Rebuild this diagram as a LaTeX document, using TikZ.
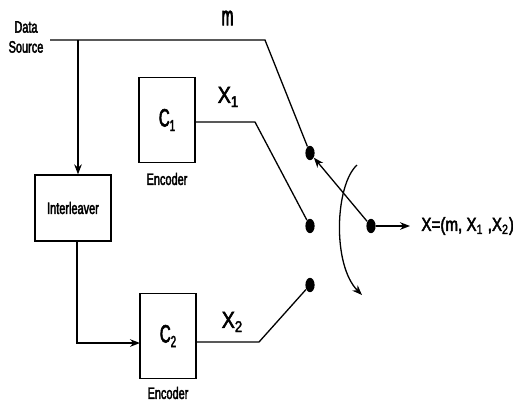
\documentclass[tikz,border=0pt]{standalone}
\usepackage{fontspec}
\setmainfont{Liberation Sans}[FakeStretch=0.66,FakeBold=2.5]
\newfontfamily\cfont{Liberation Sans}[FakeStretch=0.6,FakeBold=2.5]
\newfontfamily\mfont{Liberation Sans}[FakeStretch=0.52,FakeBold=2.5]
\newfontfamily\xfont{Liberation Sans}[FakeStretch=0.85,FakeBold=2.5]
\newfontfamily\ofont{Liberation Sans}[FakeStretch=0.79,FakeBold=2.5]
\usetikzlibrary{arrows.meta,shapes.geometric}
\newcommand{\lsub}[2][7.4]{\raisebox{-0.35ex}{\fontsize{#1}{8}\selectfont #2}}
\begin{document}
\begin{tikzpicture}[x=0.5pt,y=-0.5pt,
  wire/.style={line width=0.65pt},
  arr/.style={wire,-{Stealth[length=5pt,width=3.8pt]}},
  box/.style={draw,line width=0.65pt,minimum width=28pt,minimum height=42.5pt,inner sep=0pt},
  dotnode/.style={ellipse,fill,minimum width=4.6pt,minimum height=7.2pt,inner sep=0pt},
  small/.style={font=\fontsize{8.3}{10}\selectfont,inner sep=0pt},
  lab/.style={font=\xfont\fontsize{11.5}{12}\selectfont,inner sep=0pt}]
\useasboundingbox (0,0) rectangle (513,403);
% text nodes
\node[small,align=center] (ds) at (26,37) {Data\\Source};
\node[font=\mfont\fontsize{13.5}{15}\selectfont,inner sep=0pt] (m) at (227.5,18) {m};
\node[lab] (x1) at (228,97) {X\lsub[7.8]{1}};
\node[lab] (x2) at (232,322) {X\lsub[7.8]{2}};
% boxes
\node[box,minimum width=38pt,minimum height=33pt] (il) at (73,208) {\fontsize{8.3}{10}\selectfont Interleaver};
\node[box] (c1) at (167,120) {\cfont\fontsize{12.5}{14}\selectfont C\lsub[8]{1}};
\node[box] (c2) at (168,336) {\cfont\fontsize{12.5}{14}\selectfont C\lsub[8]{2}};
\node[small] (e1) at (167,179) {Encoder};
\node[small] (e2) at (168,393) {Encoder};
% switch contacts
\node[dotnode] (d1) at (310,153) {};
\node[dotnode] (d2) at (310,226) {};
\node[dotnode] (d3) at (310,285) {};
\node[dotnode] (d4) at (371,226) {};
\node[font=\ofont\fontsize{9.6}{12}\selectfont,anchor=west,inner sep=0pt] (xo) at (421,226) {X=(m, X\textsubscript{1} ,X\textsubscript{2})};
% coordinates
\coordinate (dsr) at (50,40);
\coordinate (j) at (78,40);
\coordinate (tc) at (265,40);
\coordinate (k1) at (255,122);
\coordinate (k2) at (259,342);
\coordinate (ilo) at (77,241);
\coordinate (c2in) at (140,343);
\coordinate (oe) at (410,226);
\coordinate (cs) at (357,165);
\coordinate (ca) at (335,185);
\coordinate (cb) at (332,265);
\coordinate (ce) at (362,295);
% connectors
\draw[wire] (dsr) -- (tc) -- (d1);
\draw[arr] (j) -- (j |- il.north);
\draw[arr] (ilo) |- (c2in);
\draw[wire] (c1.east |- k1) -- (k1) -- (d2);
\draw[wire] (c2.east |- k2) -- (k2) -- (d3);
\draw[arr] (d4) -- (oe);
\draw[arr] (d4) -- (d1);
\draw[arr] (cs) .. controls (ca) and (cb) .. (ce);
\end{tikzpicture}
\end{document}
